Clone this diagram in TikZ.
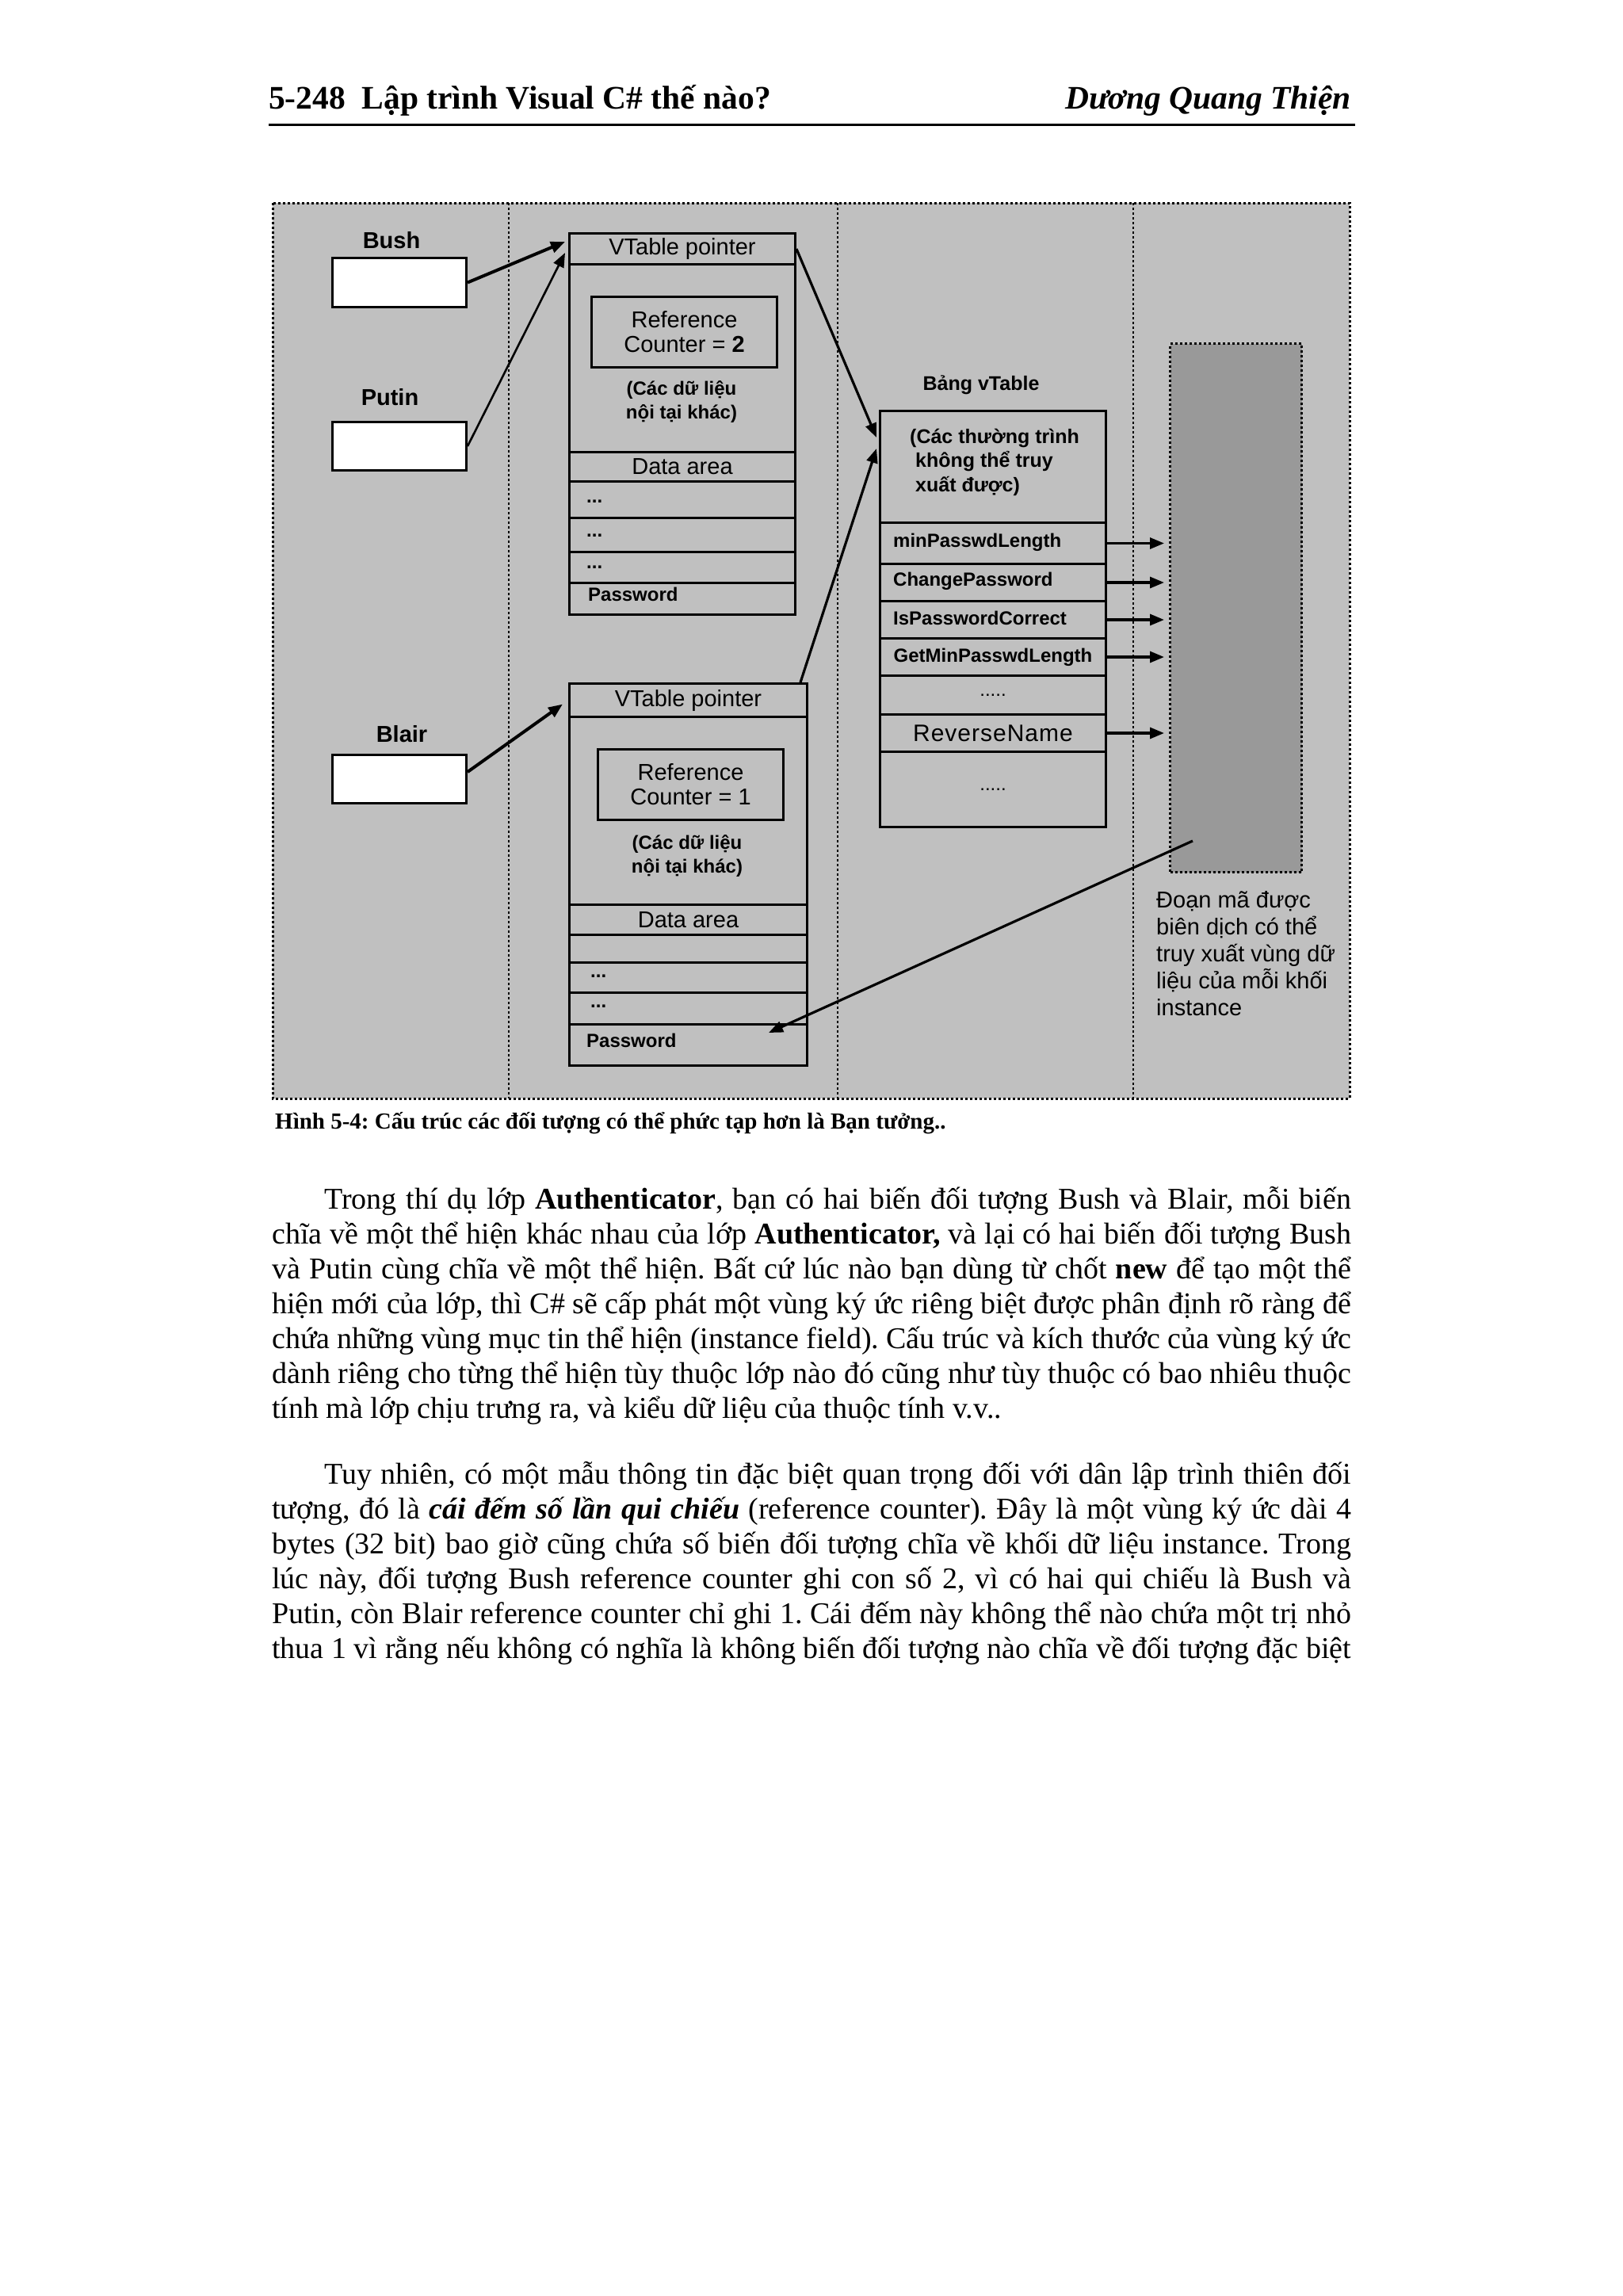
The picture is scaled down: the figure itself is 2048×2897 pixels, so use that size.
\documentclass[tikz,border=0pt]{standalone}
\usepackage{fontspec}
\setmainfont{Liberation Serif}
\newfontfamily\dsans{Liberation Sans}
\usetikzlibrary{arrows.meta,calc}
\definecolor{panel}{HTML}{C0C0C0}
\definecolor{codegray}{HTML}{999999}
\begin{document}
\frenchspacing
\begin{tikzpicture}[x=1pt,y=-1pt,
  every node/.style={inner sep=0pt},
  frame/.style={line width=3pt,dash pattern=on 3pt off 3pt},
  cell/.style={draw=black,line width=3pt,anchor=north west,inner sep=0pt},
  wbox/.style={cell,fill=white},
  arr/.style={line width=3.2pt,-{Triangle[length=18pt,width=14pt]}},
  vname/.style={font=\dsans\bfseries\fontsize{29}{34}\selectfont},
  reg/.style={font=\dsans\fontsize{29}{31}\selectfont},
  smb/.style={font=\dsans\bfseries\fontsize{24}{30}\selectfont},
  body/.style={anchor=base west,font=\fontsize{38}{44}\selectfont},
]
\fill[white] (0,0) rectangle (2048,2897);
\path[use as bounding box] (0,0) rectangle (2048,2897);

% header
\node[anchor=base west,font=\bfseries\fontsize{41.5}{46}\selectfont] (hl) at (339,137) {5-248~~Lập trình Visual C\# thế nào?};
\node[anchor=base east,font=\bfseries\itshape\fontsize{41.5}{46}\selectfont] (hr) at (1705,137) {Dương Quang Thiện};
\draw[line width=3pt] (339,157) -- (1710,157);

% frame
\fill[panel] (344,256) rectangle (1703,1386);
\foreach \x in {642,1057,1430} \draw[frame,line width=2.6pt] (\x,256) -- (\x,1386);
\draw[frame] (344,256) rectangle (1703,1386);

% variables
\node[vname] (lbush) at (494,303) {Bush};
\node[wbox,minimum width=169pt,minimum height=62pt] (bush) at (418,324) {};
\node[vname] (lputin) at (492,501) {Putin};
\node[wbox,minimum width=169pt,minimum height=61pt] (putin) at (418,531) {};
\node[vname] (lblair) at (507,926) {Blair};
\node[wbox,minimum width=169pt,minimum height=61pt] (blair) at (418,951) {};

% object 1
\node[cell,reg,minimum width=285pt,minimum height=39pt] (o1vt) at (717,293) {VTable pointer};
\node[cell,minimum width=285pt,minimum height=237pt] (o1body) at (717,332) {};
\node[cell,reg,align=center,minimum width=234pt,minimum height=89pt] (o1ref) at (745,373) {Reference\\Counter = \textbf{2}};
\node[smb,align=center] (o1txt) at (860,507) {(Các dữ liệu\\nội tại khác)};
\node[cell,reg,minimum width=285pt,minimum height=37pt] (o1data) at (717,569) {Data area};
\node[cell,minimum width=285pt,minimum height=46pt] (o1d1) at (717,606) {};
\node[cell,minimum width=285pt,minimum height=43pt] (o1d2) at (717,652) {};
\node[cell,minimum width=285pt,minimum height=39pt] (o1d3) at (717,695) {};
\node[cell,minimum width=285pt,minimum height=40pt] (o1pw) at (717,734) {};
\node[smb,anchor=west] (o1t1) at (740,633) {...};
\node[smb,anchor=west] (o1t2) at (740,676) {...};
\node[smb,anchor=west] (o1t3) at (740,716) {...};
\node[smb,anchor=west] (o1t4) at (742,750) {Password};

% object 2
\node[cell,reg,minimum width=300pt,minimum height=42pt] (o2vt) at (717,861) {VTable pointer};
\node[cell,minimum width=300pt,minimum height=237pt] (o2body) at (717,903) {};
\node[cell,reg,align=center,minimum width=234pt,minimum height=89pt] (o2ref) at (753,944) {Reference\\Counter = 1};
\node[smb,align=center] (o2txt) at (867,1080) {(Các dữ liệu\\nội tại khác)};
\node[cell,reg,minimum width=300pt,minimum height=38pt] (o2data) at (717,1140) {Data area};
\node[cell,minimum width=300pt,minimum height=35pt] (o2e) at (717,1178) {};
\node[cell,minimum width=300pt,minimum height=38pt] (o2d1) at (717,1213) {};
\node[cell,minimum width=300pt,minimum height=40pt] (o2d2) at (717,1251) {};
\node[cell,minimum width=300pt,minimum height=52pt] (o2pw) at (717,1291) {};
\node[smb,anchor=west] (o2t1) at (745,1232) {...};
\node[smb,anchor=west] (o2t2) at (745,1270) {...};
\node[smb,anchor=west] (o2t3) at (740,1313) {Password};

% vtable
\node[font=\dsans\bfseries\fontsize{25}{30}\selectfont] (vtl) at (1238,486) {Bảng vTable};
\node[cell,minimum width=285pt,minimum height=141pt] (vthead) at (1109,517) {};
\node[anchor=west,align=left,font=\dsans\bfseries\fontsize{25}{30.5}\selectfont] (vtht) at (1148,583) {(Các thường trình\\\hspace*{7pt}không thể truy\\\hspace*{7pt}xuất được)};
\node[cell,minimum width=285pt,minimum height=52pt] (r1) at (1109,658) {};
\node[cell,minimum width=285pt,minimum height=47pt] (r2) at (1109,710) {};
\node[cell,minimum width=285pt,minimum height=47pt] (r3) at (1109,757) {};
\node[cell,smb,minimum width=285pt,minimum height=47pt] (r4) at (1109,804) {GetMinPasswdLength};
\node[cell,font=\dsans\fontsize{24}{26}\selectfont,minimum width=285pt,minimum height=49pt] (r5) at (1109,851) {.....};
\node[cell,font=\dsans\fontsize{30}{32}\selectfont,minimum width=285pt,minimum height=47pt] (r6) at (1109,900) {R\kern1pt e\kern1pt v\kern1pt e\kern1pt r\kern1pt s\kern1pt e\kern1pt N\kern1pt a\kern1pt m\kern1pt e};
\node[cell,font=\dsans\fontsize{24}{26}\selectfont,minimum width=285pt,minimum height=95pt] (r7) at (1109,947) {.....};
\node[smb,anchor=west] (r1t) at (1127,684) {minPasswdLength};
\node[smb,anchor=west] (r2t) at (1127,733) {ChangePassword};
\node[smb,anchor=west] (r3t) at (1127,780) {IsPasswordCorrect};

% compiled code block
\node[draw=black,fill=codegray,line width=3pt,dash pattern=on 3pt off 3pt,anchor=north west,minimum width=166pt,minimum height=667pt] (code) at (1475,432) {};
\node[anchor=west,align=left,font=\dsans\fontsize{29}{34}\selectfont] (codet) at (1459,1203) {Đoạn mã được\\biên dịch có thể\\truy xuất vùng dữ\\liệu của mỗi khối\\instance};

% connectors
\draw[arr,line width=4pt] (bush.east) -- ([yshift=9pt,xshift=-4pt]o1vt.west);
\draw[arr,line width=2.6pt] (putin.east) -- ([yshift=-5pt,xshift=-4pt]o1vt.west);
\draw[arr,line width=4pt] ([yshift=9pt]blair.east) -- ([yshift=-5pt,xshift=-7pt]o2vt.west);
\draw[arr] (o1vt.east) -- ([yshift=-35pt,xshift=-3pt]vthead.north west);
\draw[arr] ([xshift=-10pt]o2vt.north east) -- ([yshift=-49pt,xshift=-3pt]vthead.north west);
\foreach \r in {r1,r2,r3,r4,r6} \draw[arr] (\r.east) -- ([xshift=-6pt]\r.east -| code.west);
\draw[arr] ([xshift=30pt,yshift=41pt]code.south west) -- ([xshift=-50pt,yshift=-12pt]o2pw.north east);

% caption
\node[anchor=base west,font=\bfseries\fontsize{29}{32}\selectfont] (cap) at (347,1424) {Hình 5-4: Cấu trúc các đối tượng có thể phức tạp hơn là Bạn tưởng..};

% body text
\node[body] (p1a) at (409,1525) {\makebox[1296pt][s]{Trong thí dụ lớp \textbf{Authenticator}, bạn có hai biến đối tượng Bush và Blair, mỗi biến}};
\node[body] (p1b) at (343,1569) {\makebox[1362pt][s]{chĩa về một thể hiện khác nhau của lớp \textbf{Authenticator,} và lại có hai biến đối tượng Bush}};
\node[body] (p1c) at (343,1613) {\makebox[1362pt][s]{và Putin cùng chĩa về một thể hiện. Bất cứ lúc nào bạn dùng từ chốt \textbf{new} để tạo một thể}};
\node[body] (p1d) at (343,1657) {\makebox[1362pt][s]{hiện mới của lớp, thì C\# sẽ cấp phát một vùng ký ức riêng biệt được phân định rõ ràng để}};
\node[body] (p1e) at (343,1701) {\makebox[1362pt][s]{chứa những vùng mục tin thể hiện (instance field). Cấu trúc và kích thước của vùng ký ức}};
\node[body] (p1f) at (343,1745) {\makebox[1362pt][s]{dành riêng cho từng thể hiện tùy thuộc lớp nào đó cũng như tùy thuộc có bao nhiêu thuộc}};
\node[body] (p1g) at (343,1789) {tính mà lớp chịu trưng ra, và kiểu dữ liệu của thuộc tính v.v..};

\node[body] (p2a) at (409,1872) {\makebox[1296pt][s]{Tuy nhiên, có một mẫu thông tin đặc biệt quan trọng đối với dân lập trình thiên đối}};
\node[body] (p2b) at (343,1916) {\makebox[1362pt][s]{tượng, đó là \textbf{\textit{cái đếm số lần qui chiếu}} (reference counter). Đây là một vùng ký ức dài 4}};
\node[body] (p2c) at (343,1960) {\makebox[1362pt][s]{bytes (32 bit) bao giờ cũng chứa số biến đối tượng chĩa về khối dữ liệu instance. Trong}};
\node[body] (p2d) at (343,2004) {\makebox[1362pt][s]{lúc này, đối tượng Bush reference counter ghi con số 2, vì có hai qui chiếu là Bush và}};
\node[body] (p2e) at (343,2048) {\makebox[1362pt][s]{Putin, còn Blair reference counter chỉ ghi 1. Cái đếm này không thể nào chứa một trị nhỏ}};
\node[body] (p2f) at (343,2092) {\makebox[1362pt][s]{thua 1 vì rằng nếu không có nghĩa là không biến đối tượng nào chĩa về đối tượng đặc biệt}};
\end{tikzpicture}
\end{document}
